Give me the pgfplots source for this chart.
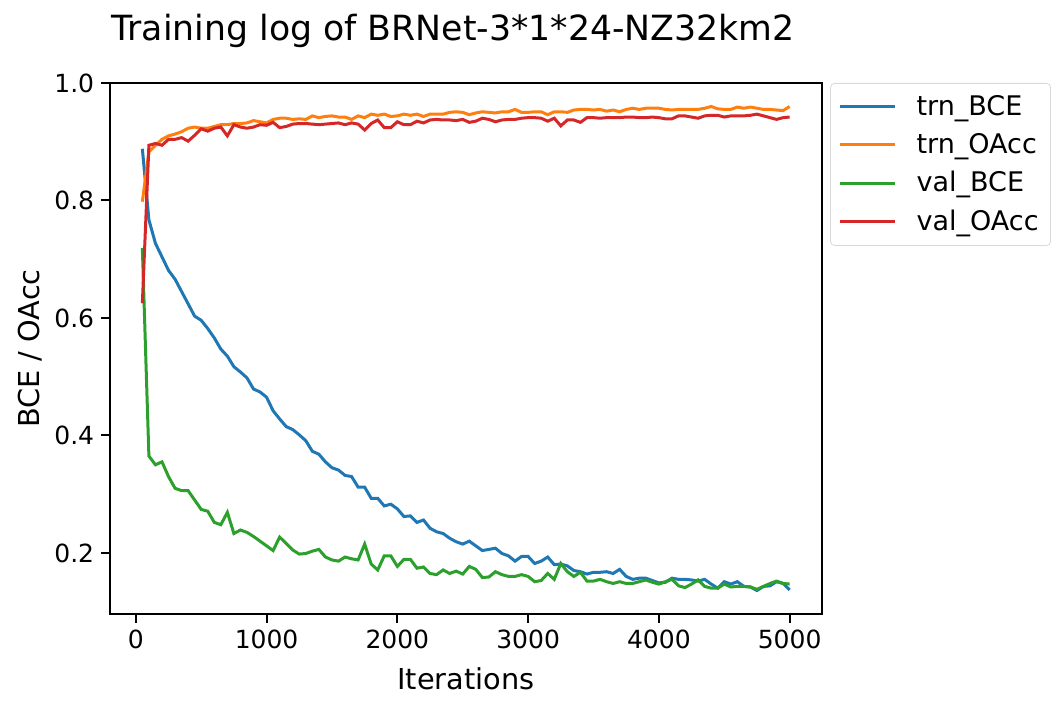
\documentclass[border=0pt]{standalone}
\usepackage{fontspec}
\setmainfont{DejaVu Sans}
\usepackage{pgfplots}
\usepackage{pgfplotstable}
\pgfplotsset{compat=1.18}

\definecolor{tabblue}{HTML}{1F77B4}
\definecolor{taborange}{HTML}{FF7F0E}
\definecolor{tabgreen}{HTML}{2CA02C}
\definecolor{tabred}{HTML}{D62728}

% it = iterations, tb = trn_BCE, to = trn_OAcc, vb = val_BCE, vo = val_OAcc
\pgfplotstableread{
it tb to vb vo
50 0.888 0.798 0.719 0.625
100 0.767 0.883 0.365 0.894
150 0.727 0.894 0.350 0.897
200 0.704 0.904 0.355 0.894
250 0.681 0.910 0.330 0.904
300 0.666 0.913 0.310 0.904
350 0.645 0.917 0.306 0.907
400 0.624 0.923 0.306 0.901
450 0.603 0.925 0.290 0.911
500 0.596 0.923 0.274 0.922
550 0.582 0.923 0.271 0.918
600 0.566 0.926 0.252 0.923
650 0.547 0.929 0.248 0.925
700 0.535 0.929 0.269 0.910
750 0.517 0.931 0.233 0.929
800 0.508 0.931 0.239 0.925
850 0.498 0.932 0.235 0.923
900 0.479 0.936 0.228 0.925
950 0.474 0.934 0.220 0.929
1000 0.465 0.932 0.212 0.928
1050 0.442 0.938 0.204 0.933
1100 0.428 0.940 0.227 0.924
1150 0.415 0.940 0.216 0.926
1200 0.410 0.938 0.205 0.930
1250 0.401 0.939 0.198 0.931
1300 0.391 0.938 0.199 0.931
1350 0.373 0.944 0.203 0.930
1400 0.368 0.941 0.206 0.929
1450 0.355 0.943 0.193 0.930
1500 0.345 0.944 0.188 0.931
1550 0.341 0.942 0.186 0.932
1600 0.332 0.942 0.193 0.929
1650 0.330 0.938 0.190 0.932
1700 0.312 0.944 0.188 0.930
1750 0.312 0.941 0.215 0.920
1800 0.293 0.947 0.181 0.931
1850 0.293 0.945 0.171 0.937
1900 0.280 0.947 0.195 0.924
1950 0.283 0.943 0.195 0.924
2000 0.275 0.944 0.177 0.934
2050 0.262 0.947 0.189 0.929
2100 0.263 0.945 0.189 0.929
2150 0.252 0.947 0.174 0.935
2200 0.256 0.943 0.176 0.932
2250 0.242 0.947 0.165 0.937
2300 0.236 0.947 0.163 0.938
2350 0.233 0.947 0.171 0.937
2400 0.225 0.950 0.165 0.937
2450 0.219 0.951 0.169 0.936
2500 0.215 0.950 0.164 0.938
2550 0.220 0.946 0.177 0.933
2600 0.212 0.949 0.172 0.935
2650 0.204 0.951 0.158 0.940
2700 0.206 0.950 0.159 0.938
2750 0.208 0.949 0.168 0.934
2800 0.199 0.951 0.163 0.937
2850 0.195 0.951 0.160 0.938
2900 0.186 0.955 0.160 0.938
2950 0.194 0.950 0.163 0.940
3000 0.194 0.950 0.160 0.941
3050 0.182 0.951 0.151 0.941
3100 0.186 0.951 0.153 0.940
3150 0.193 0.946 0.165 0.935
3200 0.180 0.951 0.155 0.940
3250 0.181 0.951 0.182 0.927
3300 0.178 0.950 0.168 0.937
3350 0.170 0.954 0.160 0.937
3400 0.168 0.955 0.167 0.933
3450 0.164 0.955 0.152 0.941
3500 0.167 0.954 0.152 0.941
3550 0.167 0.955 0.155 0.940
3600 0.168 0.952 0.151 0.941
3650 0.165 0.954 0.148 0.941
3700 0.172 0.951 0.151 0.941
3750 0.160 0.955 0.148 0.942
3800 0.155 0.957 0.148 0.942
3850 0.157 0.955 0.151 0.941
3900 0.157 0.957 0.154 0.941
3950 0.153 0.957 0.150 0.942
4000 0.149 0.957 0.147 0.941
4050 0.150 0.955 0.151 0.939
4100 0.157 0.954 0.155 0.939
4150 0.155 0.955 0.144 0.944
4200 0.155 0.955 0.141 0.944
4250 0.154 0.955 0.147 0.942
4300 0.152 0.955 0.154 0.940
4350 0.155 0.957 0.143 0.944
4400 0.147 0.960 0.140 0.945
4450 0.140 0.956 0.140 0.945
4500 0.151 0.955 0.147 0.942
4550 0.147 0.955 0.142 0.944
4600 0.151 0.959 0.143 0.944
4650 0.143 0.957 0.143 0.944
4700 0.142 0.959 0.142 0.945
4750 0.136 0.957 0.138 0.947
4800 0.143 0.955 0.143 0.944
4850 0.144 0.955 0.148 0.941
4900 0.151 0.954 0.152 0.938
4950 0.148 0.953 0.148 0.941
5000 0.137 0.960 0.147 0.942
}\logtable

\begin{document}
\begin{tikzpicture}
\useasboundingbox (-55pt,-47pt) rectangle (475pt,307pt);
\begin{axis}[
    at={(0,0)}, anchor=south west,
    scale only axis,
    width=356pt, height=265.5pt,
    xmin=-197.5, xmax=5247.5,
    ymin=0.096, ymax=1.0,
    xtick={0,1000,2000,3000,4000,5000},
    ytick={0.2,0.4,0.6,0.8,1.0},
    xtick pos=left, ytick pos=left,
    tick align=outside,
    major tick length=4.4pt,
    tick style={black, line width=1pt},
    axis line style={line width=1pt},
    ticklabel style={font=\fontsize{12.5}{15}\selectfont},
    /pgf/number format/assume math mode=true,
    xticklabel style={/pgf/number format/1000 sep={}},
    yticklabel style={/pgf/number format/fixed, /pgf/number format/fixed zerofill, /pgf/number format/precision=1},
    title={Training log of BRNet-3*1*24-NZ32km2},
    title style={at={(0.5,1)}, anchor=base, yshift=15pt, xshift=-6.5pt, font=\fontsize{17.35}{20}\selectfont},
    xlabel={Iterations},
    ylabel={BCE / OAcc},
    label style={font=\fontsize{14.4}{17}\selectfont},
    xlabel style={at={(axis description cs:0.5,0)}, anchor=center, yshift=-32.5pt},
    ylabel style={at={(axis description cs:-0.1124,0.5)}, anchor=center},
    legend style={at={(1.0115,1)}, anchor=north west, draw=black!15, rounded corners=2pt,
        font=\fontsize{13.5}{16}\selectfont, inner xsep=4pt, inner ysep=4pt, row sep=3.5pt,
        /tikz/every odd column/.append style={column sep=8pt}},
    legend cell align=left,
    legend image code/.code={\draw[#1] (0pt,0pt) -- (27.5pt,0pt);},
    every axis plot/.append style={line width=1.5pt},
]
\addplot[tabblue] table[x=it, y=tb] {\logtable};
\addlegendentry{trn\_BCE}
\addplot[taborange] table[x=it, y=to] {\logtable};
\addlegendentry{trn\_OAcc}
\addplot[tabgreen] table[x=it, y=vb] {\logtable};
\addlegendentry{val\_BCE}
\addplot[tabred] table[x=it, y=vo] {\logtable};
\addlegendentry{val\_OAcc}
\end{axis}
\end{tikzpicture}
\end{document}
